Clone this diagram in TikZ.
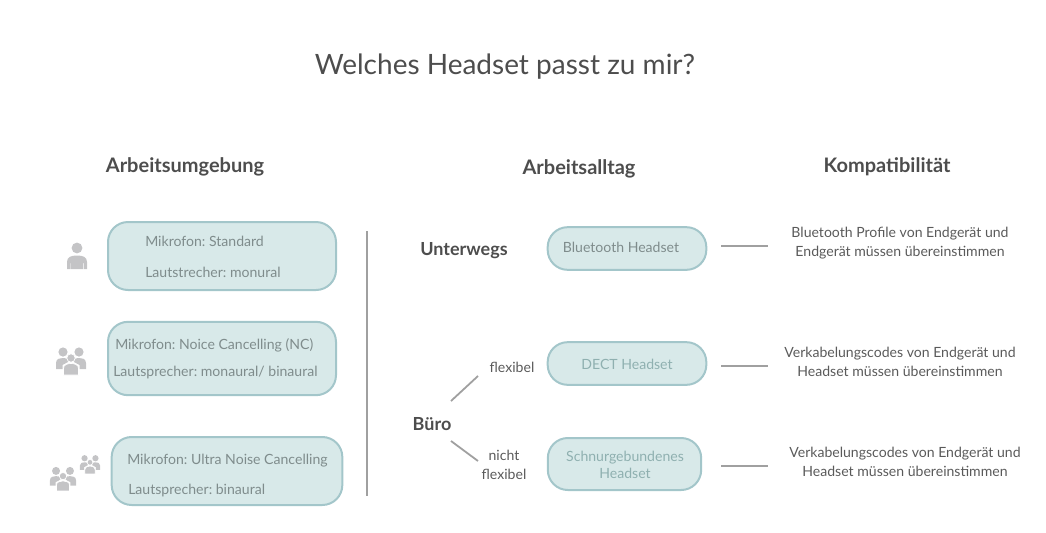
\documentclass[tikz,border=0pt]{standalone}
\usepackage{fontspec}
\setmainfont{Lato}
\frenchspacing
\definecolor{boxfill}{HTML}{D8E9E9}
\definecolor{boxline}{HTML}{A3C6CA}
\definecolor{boxtext}{HTML}{7F8C8C}
\definecolor{softtext}{HTML}{8FB0B0}
\definecolor{headtext}{HTML}{4D4D4D}
\definecolor{bodytext}{HTML}{5A5A5A}
\definecolor{rulecol}{HTML}{A0A0A0}
\definecolor{iconcol}{HTML}{C4C4C6}
\tikzset{
  x=0.75pt,y=-0.75pt,
  title/.style={font=\fontsize{21}{25}\selectfont,text=headtext,inner sep=0pt},
  heading/.style={font=\fontsize{15}{18}\selectfont\bfseries,text=headtext,inner sep=0pt},
  subheading/.style={font=\fontsize{13.5}{16}\selectfont\bfseries,text=headtext,inner sep=0pt},
  bodylabel/.style={font=\fontsize{10.55}{14.25}\selectfont,text=bodytext,inner sep=0pt,align=center},
  boxlabel/.style={font=\fontsize{10.55}{12.75}\selectfont,text=boxtext,inner sep=0pt,anchor=west},
  softlabel/.style={font=\fontsize{10.55}{12.75}\selectfont,text=softtext,inner sep=0pt,align=center},
  panel/.style={draw=boxline,line width=1.5pt,fill=boxfill,rounded corners=15pt,inner sep=0pt},
  connector/.style={draw=rulecol,line width=1.35pt},
}
\newcommand{\personicon}[3]{% x, y (centre of head), scale
  \begin{scope}[shift={(#1,#2)},scale=#3]
    \fill[iconcol] (0,0) circle (5.4);
    \fill[iconcol] (-10,21) -- (-10,14) .. controls (-10,9) and (-6,7.5) .. (0,7.5) .. controls (6,7.5) and (10,9) .. (10,14) -- (10,21) -- (7,21) -- (7,15) -- (6.4,15) -- (6.4,21) -- (-6.4,21) -- (-6.4,15) -- (-7,15) -- (-7,21) -- cycle;
  \end{scope}}
\newcommand{\groupicon}[3]{% x, y (centre of front head), scale
  \begin{scope}[shift={(#1,#2)},scale=#3]
    \fill[iconcol] (-8,-7) circle (4.6);
    \fill[iconcol] (8,-7) circle (4.6);
    \fill[iconcol] (-15,10) -- (-15,4) .. controls (-15,-.5) and (-11,-1) .. (-8,-1) .. controls (-5.5,-1) and (-4,-.5) .. (-3,.5) -- (-3,3) -- (-8.5,6) -- (-8.5,10) -- cycle;
    \fill[iconcol] (15,10) -- (15,4) .. controls (15,-.5) and (11,-1) .. (8,-1) .. controls (5.5,-1) and (4,-.5) .. (3,.5) -- (3,3) -- (8.5,6) -- (8.5,10) -- cycle;
    \filldraw[iconcol,draw=white,line width=.5pt] (0,-1) circle (4.2);
    \filldraw[iconcol,draw=white,line width=.5pt] (-7.5,16) -- (-7.5,9.5) .. controls (-7.5,5.5) and (-3.5,4.5) .. (0,4.5) .. controls (3.5,4.5) and (7.5,5.5) .. (7.5,9.5) -- (7.5,16) -- cycle;
  \end{scope}}
\begin{document}
\begin{tikzpicture}
\useasboundingbox (0,0) rectangle (1046,532);
\node[title] (t) at (505,66.5) {Welches Headset passt zu mir?};
\node[heading] (h1) at (185,167) {Arbeitsumgebung};
\node[heading] (h2) at (579,169) {Arbeitsalltag};
\node[heading] (h3) at (887,167) {Kompatibilität};

% left panels
\node[panel,minimum width=171pt,minimum height=51pt] (b1) at (222,256) {};
\node[panel,minimum width=171pt,minimum height=55pt] (b2) at (222,358.5) {};
\node[panel,minimum width=173pt,minimum height=51pt] (b3) at (227,471) {};
\node[boxlabel] (b1a) at (145,241) {Mikrofon: Standard};
\node[boxlabel] (b1b) at (145,272) {Lautstrecher: monural};
\node[boxlabel] (b2a) at (115,345) {Mikrofon: Noice Cancelling (NC)};
\node[boxlabel] (b2b) at (113,373) {Lautsprecher: monaural/ binaural};
\node[boxlabel] (b3a) at (127,461) {Mikrofon: Ultra Noise Cancelling};
\node[boxlabel] (b3b) at (128,491) {Lautsprecher: binaural};

% icons
\personicon{77}{248}{1}
\groupicon{71}{359}{1}
\groupicon{63}{477}{.87}
\groupicon{90}{463}{.68}

% divider
\coordinate (d1) at (367,231);
\coordinate (d2) at (367,496);
\draw[connector] (d1) -- (d2);

% middle
\node[subheading] (u) at (464,251) {Unterwegs};
\node[subheading] (bu) at (432,424) {Büro};
\node[bodylabel] (fx) at (512,367) {flexibel};
\node[bodylabel] (nf) at (504,465) {nicht\\flexibel};
\coordinate (f1) at (451,401);
\coordinate (f2) at (478,376);
\coordinate (n1) at (451,441);
\coordinate (n2) at (478,461);
\draw[connector] (f1) -- (f2);
\draw[connector] (n1) -- (n2);

\node[panel,minimum width=119pt,minimum height=32pt] (m1) at (627,248.5) {};
\node[panel,minimum width=119pt,minimum height=32pt] (m2) at (627,363.5) {};
\node[panel,minimum width=115pt,minimum height=39pt] (m3) at (624.5,464) {};
\node[softlabel,text=boxtext] (m1t) at (621,247) {Bluetooth Headset};
\node[softlabel] (m2t) at (627,364) {DECT Headset};
\node[softlabel] (m3t) at (625,464.5) {Schnurgebundenes\\Headset};

% right
\coordinate (c1) at (721,246);
\coordinate (c1e) at (768,246);
\coordinate (c2) at (721,366);
\coordinate (c2e) at (768,366);
\coordinate (c3) at (721,466);
\coordinate (c3e) at (768,466);
\draw[connector] (c1) -- (c1e);
\draw[connector] (c2) -- (c2e);
\draw[connector] (c3) -- (c3e);
\node[bodylabel] (r1) at (900,243.5) {Bluetooth Profile von Endgerät und\\Endgerät müssen übereinstimmen};
\node[bodylabel] (r2) at (900,361.5) {Verkabelungscodes von Endgerät und\\Headset müssen übereinstimmen};
\node[bodylabel] (r3) at (905,461.5) {Verkabelungscodes von Endgerät und\\Headset müssen übereinstimmen};
\end{tikzpicture}
\end{document}
